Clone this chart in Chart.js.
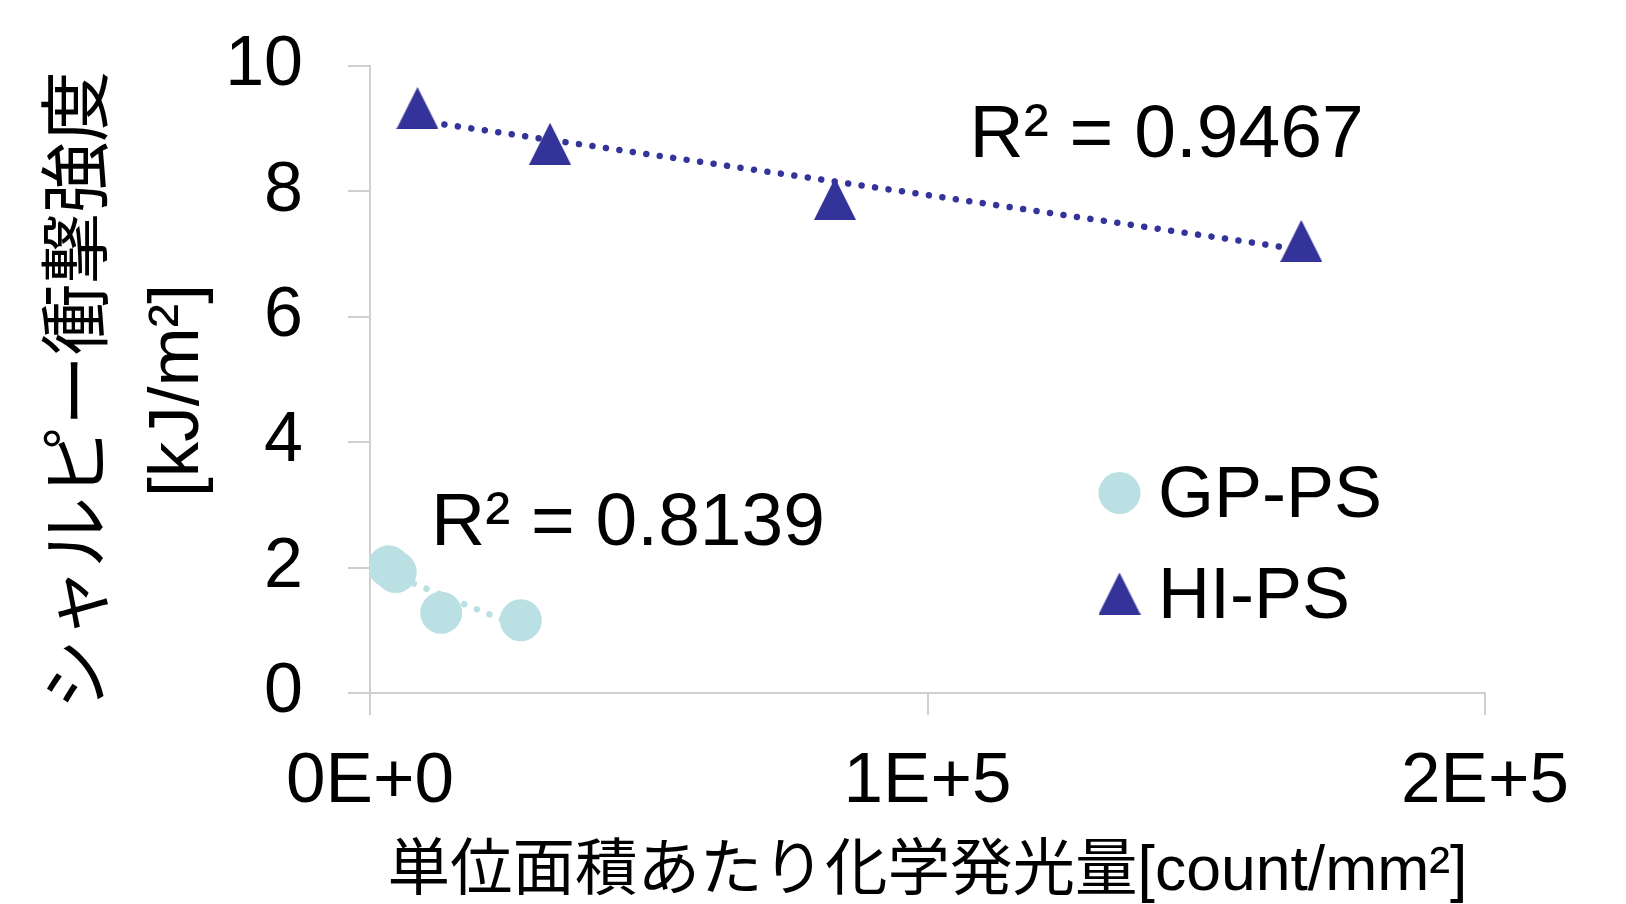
<!DOCTYPE html>
<html lang="ja">
<head>
<meta charset="UTF-8">
<title>シャルピー衝撃強度と化学発光量</title>
<script src="https://cdn.jsdelivr.net/npm/chart.js@4.4.0/dist/chart.umd.min.js"></script>
<style>
  body { margin: 0; background: #fff; }
</style>
</head>
<body>
<canvas id="chart" width="1626" height="904"></canvas>
<script>
// 図から読み取った値
const gpX = [3350, 4610, 12770, 27050];
const gpY = [2.02, 1.93, 1.28, 1.16];
const hiX = [8520, 32290, 83400, 167050];
const hiY = [9.33, 8.76, 7.88, 7.21];
const seriesNames = ['GP-PS', 'HI-PS'];
const r2Labels = ['R² = 0.8139', 'R² = 0.9467'];
const xTicks = [0, 100000, 200000];
const yTicks = [0, 2, 4, 6, 8, 10];
const xTitle = '単位面積あたり化学発光量[count/mm²]';
const yTitle = ['シャルピー衝撃強度', '[kJ/m²]'];

const FONT = '"Liberation Sans", Arial, "Noto Sans CJK JP", sans-serif';
const GP_COLOR = '#BBE0E3';
const HI_COLOR = '#333399';
const AXIS_COLOR = '#cfcfcf';

Chart.defaults.font.family = FONT;
Chart.defaults.color = '#000';

// 三角マーカー（Excel風、幅と高さがほぼ同じ）
function makeTriangle(w, h, color) {
  const c = document.createElement('canvas');
  c.width = w; c.height = h;
  const g = c.getContext('2d');
  g.fillStyle = color;
  g.beginPath();
  g.moveTo(w / 2, 0);
  g.lineTo(w, h);
  g.lineTo(0, h);
  g.closePath();
  g.fill();
  return c;
}
const triangle = makeTriangle(42, 42, HI_COLOR);

// 線形近似（Excelの近似曲線と同じ最小二乗）
function trendLine(xs, ys) {
  const n = xs.length;
  const mx = xs.reduce((a, b) => a + b, 0) / n;
  const my = ys.reduce((a, b) => a + b, 0) / n;
  let sxy = 0, sxx = 0;
  for (let i = 0; i < n; i++) {
    sxy += (xs[i] - mx) * (ys[i] - my);
    sxx += (xs[i] - mx) * (xs[i] - mx);
  }
  const b = sxy / sxx, a = my - b * mx;
  const x0 = Math.min(...xs), x1 = Math.max(...xs);
  return [{ x: x0, y: a + b * x0 }, { x: x1, y: a + b * x1 }];
}

const toPoints = (xs, ys) => xs.map((x, i) => ({ x: x, y: ys[i] }));

function sciLabel(v) {
  if (v === 0) return '0E+0';
  const e = Math.floor(Math.log10(Math.abs(v)));
  return Math.round(v / Math.pow(10, e)) + 'E+' + e;
}

// R²の表示
const r2Plugin = {
  id: 'r2Text',
  afterDatasetsDraw(chart, args, opts) {
    const ctx = chart.ctx;
    ctx.save();
    ctx.font = '75px ' + FONT;
    ctx.fillStyle = '#000';
    ctx.textAlign = 'left';
    ctx.textBaseline = 'alphabetic';
    opts.anchors.forEach((p, i) => {
      const px = chart.scales.x.getPixelForValue(p.x);
      const py = chart.scales.y.getPixelForValue(p.y);
      ctx.fillText(r2Labels[i], px, py);
    });
    ctx.restore();
  }
};

// 縦軸タイトル（2行、回転）
const yTitlePlugin = {
  id: 'yTitle',
  afterDraw(chart, args, opts) {
    const ctx = chart.ctx;
    const area = chart.chartArea;
    ctx.save();
    ctx.font = opts.size + 'px ' + FONT;
    ctx.fillStyle = '#000';
    ctx.textAlign = 'center';
    ctx.textBaseline = 'middle';
    ctx.translate(opts.x, (area.top + area.bottom) / 2 + opts.shift);
    ctx.rotate(-Math.PI / 2);
    yTitle.forEach((line, i) => ctx.fillText(line, 0, i * opts.lineGap));
    ctx.restore();
  }
};

// 凡例（プロット内右側）
const legendPlugin = {
  id: 'innerLegend',
  afterDraw(chart, args, opts) {
    const ctx = chart.ctx;
    ctx.save();
    ctx.font = '72px ' + FONT;
    ctx.textBaseline = 'alphabetic';
    seriesNames.forEach((name, i) => {
      const cy = opts.y + i * opts.rowGap;
      if (i === 0) {
        ctx.fillStyle = GP_COLOR;
        ctx.beginPath();
        ctx.arc(opts.x, cy, 21, 0, Math.PI * 2);
        ctx.fill();
      } else {
        ctx.drawImage(triangle, opts.x - triangle.width / 2, cy - triangle.height / 2);
      }
      ctx.fillStyle = '#000';
      ctx.fillText(name, opts.x + opts.textGap, cy + 24);
    });
    ctx.restore();
  }
};

new Chart(document.getElementById('chart'), {
  type: 'scatter',
  data: {
    datasets: [
      {
        label: seriesNames[0],
        data: toPoints(gpX, gpY),
        pointStyle: 'circle',
        pointRadius: 21,
        pointBackgroundColor: GP_COLOR,
        pointBorderWidth: 0
      },
      {
        label: seriesNames[1],
        data: toPoints(hiX, hiY),
        pointStyle: triangle,
        pointRadius: 21,
        pointBorderWidth: 0
      },
      {
        label: 'GP-PS trend',
        data: trendLine(gpX, gpY),
        showLine: true,
        pointRadius: 0,
        borderColor: GP_COLOR,
        borderWidth: 6.5,
        borderDash: [0.001, 13.6],
        borderCapStyle: 'round'
      },
      {
        label: 'HI-PS trend',
        data: trendLine(hiX, hiY),
        showLine: true,
        pointRadius: 0,
        borderColor: HI_COLOR,
        borderWidth: 6.5,
        borderDash: [0.001, 13.6],
        borderCapStyle: 'round'
      }
    ]
  },
  options: {
    responsive: false,
    animation: false,
    events: [],
    layout: { padding: { top: 66, right: 141, bottom: 0, left: 0 } },
    plugins: {
      legend: { display: false },
      tooltip: { enabled: false },
      r2Text: { anchors: [{ x: 10940, y: 2.36 }, { x: 107550, y: 8.55 }] },
      yTitle: { x: 81, lineGap: 97, size: 71, shift: 11 },
      innerLegend: { x: 1119.5, y: 493, rowGap: 100.5, textGap: 38.5 }
    },
    scales: {
      x: {
        type: 'linear',
        min: 0,
        max: 200000,
        afterBuildTicks: s => { s.ticks = xTicks.map(v => ({ value: v })); },
        afterFit: s => { s.height = 211; },
        ticks: {
          font: { size: 71 },
          padding: 25,
          maxRotation: 0,
          callback: v => sciLabel(v)
        },
        grid: { drawOnChartArea: false, drawTicks: true, tickLength: 22, color: AXIS_COLOR, lineWidth: 2 },
        border: { color: AXIS_COLOR, width: 2 },
        title: {
          display: true,
          text: xTitle,
          font: { size: 62.5, lineHeight: 1 },
          padding: { top: 0, bottom: 0 }
        }
      },
      y: {
        min: 0,
        max: 10,
        afterBuildTicks: s => { s.ticks = yTicks.map(v => ({ value: v })); },
        afterFit: s => {
          s.width = 370;
          s.paddingTop = 0;
          s.paddingBottom = 0;
        },
        ticks: { font: { size: 70 }, padding: 45 },
        grid: { drawOnChartArea: false, drawTicks: true, tickLength: 22, color: AXIS_COLOR, lineWidth: 2 },
        border: { color: AXIS_COLOR, width: 2 }
      }
    }
  },
  plugins: [r2Plugin, yTitlePlugin, legendPlugin]
});
</script>
</body>
</html>
